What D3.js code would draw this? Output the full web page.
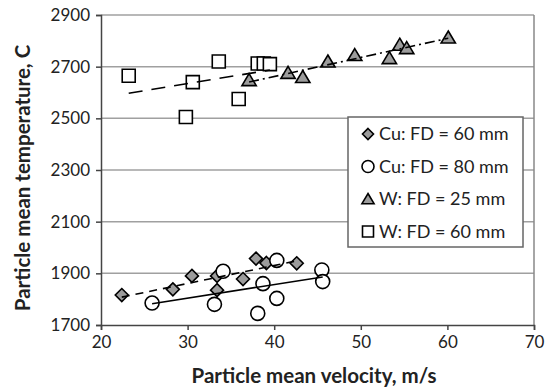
<!DOCTYPE html>
<html><head><meta charset="utf-8">
<script src="https://cdn.jsdelivr.net/npm/d3@7"></script>
<style>body{margin:0;background:#fff}svg{display:block}text{font-family:Lato,"Open Sans",sans-serif;fill:#222}</style>
</head><body><svg id="c" width="547" height="388"></svg>
<script>
// Data
const xTicks = [20, 30, 40, 50, 60, 70];
const yTicks = [1700, 1900, 2100, 2300, 2500, 2700, 2900];
const seriesNames = ["Cu: FD = 60 mm", "Cu: FD = 80 mm", "W: FD = 25 mm", "W: FD = 60 mm"];
const cu60V = [22.4, 28.3, 30.5, 33.4, 33.4, 36.4, 37.9, 39.1, 42.6];
const cu60T = [1816, 1838, 1890, 1890, 1835, 1878, 1957, 1940, 1939];
const cu80V = [25.9, 33.1, 34.1, 38.1, 38.7, 40.3, 40.3, 45.5, 45.6];
const cu80T = [1785, 1780, 1908, 1745, 1860, 1803, 1950, 1913, 1868];
const w25V = [37.1, 41.6, 43.3, 46.2, 49.3, 53.3, 54.5, 55.3, 60.1];
const w25T = [2648, 2676, 2660, 2720, 2745, 2733, 2785, 2772, 2813];
const w60V = [23.2, 29.8, 30.6, 33.6, 35.9, 38.1, 38.8, 39.5];
const w60T = [2665, 2505, 2640, 2720, 2575, 2712, 2712, 2710];

const svg = d3.select("#c");
const M = {l: 101, r: 534, t: 15, b: 325};
const x = d3.scaleLinear().domain([20, 70]).range([M.l, M.r]);
const y = d3.scaleLinear().domain([1700, 2900]).range([M.b, M.t]);

const series = [
  {name: seriesNames[0], v: cu60V, t: cu60T, shape: "diamond", fill: "#9c9c9c", dash: "8,6"},
  {name: seriesNames[1], v: cu80V, t: cu80T, shape: "circle", fill: "#fff", dash: null},
  {name: seriesNames[2], v: w25V, t: w25T, shape: "triangle", fill: "#9c9c9c", dash: "10,4,2,4"},
  {name: seriesNames[3], v: w60V, t: w60T, shape: "square", fill: "#fff", dash: "14,9"}
];

// gridlines
svg.append("g").selectAll("line").data(yTicks.slice(1)).join("line")
  .attr("x1", M.l).attr("x2", M.r).attr("y1", d => y(d)).attr("y2", d => y(d))
  .attr("stroke", "#a0a0a0").attr("stroke-width", 1.5);
// right border
svg.append("line").attr("x1", M.r).attr("x2", M.r).attr("y1", M.t).attr("y2", M.b)
  .attr("stroke", "#888").attr("stroke-width", 1.5);

// axes
const xAxis = d3.axisBottom(x).tickValues(xTicks).tickFormat(d3.format("d")).tickSize(5).tickPadding(6);
const yAxis = d3.axisLeft(y).tickValues(yTicks).tickFormat(d3.format("d")).tickSize(5).tickPadding(6);
const gx = svg.append("g").attr("transform", `translate(0,${M.b})`).call(xAxis);
const gy = svg.append("g").attr("transform", `translate(${M.l},0)`).call(yAxis);
[gx, gy].forEach(g => {
  g.select(".domain").attr("stroke", "#444").attr("stroke-width", 1.5);
  g.selectAll(".tick line").attr("stroke", "#444").attr("stroke-width", 1.5);
  g.selectAll(".tick text").style("font-family", "Lato").style("font-size", "17px").attr("fill", "#222");
});

function shapePath(shape, cx, cy, s) {
  const h = s / 2;
  if (shape === "diamond") return `M${cx},${cy - h}L${cx + h},${cy}L${cx},${cy + h}L${cx - h},${cy}Z`;
  if (shape === "triangle") return `M${cx},${cy - h}L${cx + h * 1.1},${cy + h * 0.85}L${cx - h * 1.1},${cy + h * 0.85}Z`;
  if (shape === "square") return `M${cx - h},${cy - h}h${s}v${s}h${-s}Z`;
  const r = h;
  return `M${cx - r},${cy}a${r},${r} 0 1,0 ${2 * r},0a${r},${r} 0 1,0 ${-2 * r},0Z`;
}
const sizes = {diamond: 13, circle: 14, triangle: 13, square: 13};

// markers
const drawOrder = [series[3], series[0], series[1], series[2]];
drawOrder.forEach(s => {
  svg.append("g").selectAll("path").data(s.v.map((v, i) => [v, s.t[i]])).join("path")
    .attr("d", d => shapePath(s.shape, x(d[0]), y(d[1]), sizes[s.shape]))
    .attr("fill", s.fill).attr("stroke", "#000").attr("stroke-width", 1.6);
});

// linear trend lines (least squares)
series.forEach(s => {
  const mx = d3.mean(s.v), my = d3.mean(s.t);
  const b = d3.sum(s.v, (v, i) => (v - mx) * (s.t[i] - my)) / d3.sum(s.v, v => (v - mx) ** 2);
  const a = my - b * mx;
  const [x0, x1] = d3.extent(s.v);
  svg.append("line").attr("x1", x(x0)).attr("y1", y(a + b * x0)).attr("x2", x(x1)).attr("y2", y(a + b * x1))
    .attr("stroke", "#000").attr("stroke-width", 1.6).attr("stroke-dasharray", s.dash);
});

// legend
const lg = svg.append("g");
lg.append("rect").attr("x", 348).attr("y", 117).attr("width", 175).attr("height", 130)
  .attr("fill", "#fff").attr("stroke", "#666").attr("stroke-width", 1.5);
const rowsY = [134, 166.5, 199, 231.5];
series.forEach((s, i) => {
  lg.append("path").attr("d", shapePath(s.shape, 368, rowsY[i], s.shape === "circle" ? 12 : 11))
    .attr("fill", s.fill).attr("stroke", "#000").attr("stroke-width", 1.6);
  lg.append("text").attr("x", 379).attr("y", rowsY[i]).attr("dy", "0.36em")
    .style("font-size", "18px").text(s.name);
});

// axis titles
svg.append("text").attr("x", 314).attr("y", 383).attr("text-anchor", "middle")
  .style("font-size", "20.5px").style("font-weight", "bold").text("Particle mean velocity, m/s");
svg.append("text").attr("transform", "translate(30,178) rotate(-90)").attr("text-anchor", "middle")
  .style("font-size", "20.5px").style("font-weight", "bold").text("Particle mean temperature, C");
</script></body></html>
